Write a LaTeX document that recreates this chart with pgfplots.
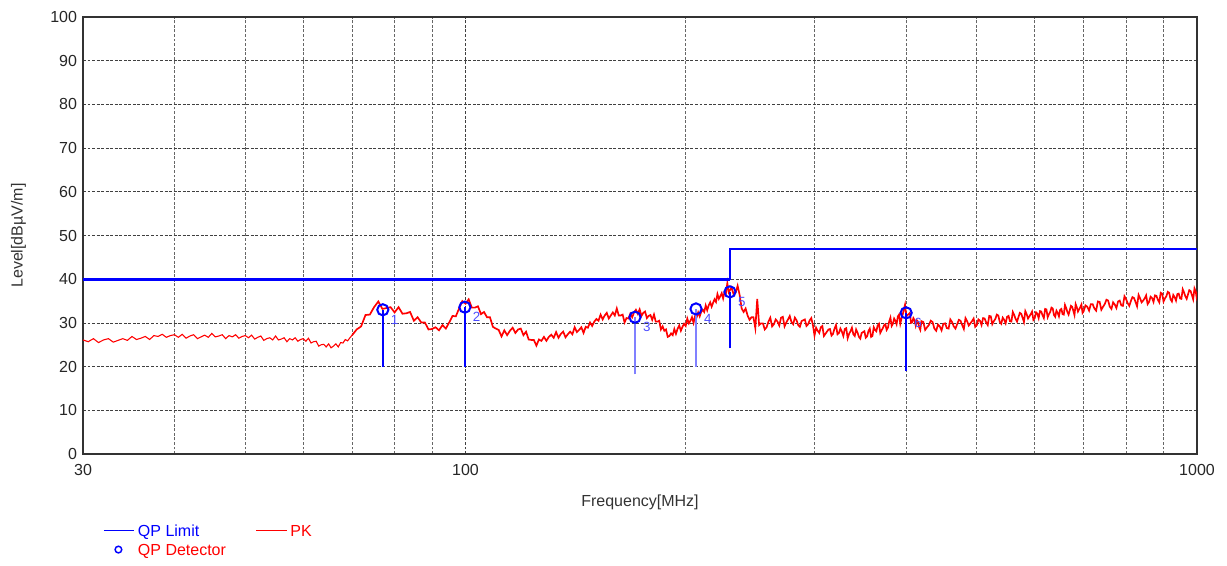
\documentclass[border=0pt]{standalone}
\usepackage{fontspec}
\setmainfont{Liberation Sans}
\usepackage{pgfplots}
\pgfplotsset{compat=1.18}

\begin{document}
\begin{tikzpicture}
\useasboundingbox (-62.25pt,-83.25pt) rectangle (858pt,340.5pt);
\begin{axis}[
    at={(0,0)}, anchor=south west,
    scale only axis,
    width=835.5pt, height=327.75pt,
    xmode=log,
    xmin=30, xmax=1000,
    ymin=0, ymax=100,
    xtick={30,100,1000},
    xticklabels={30,100,1000},
    minor xtick={40,50,60,70,80,90,200,300,400,500,600,700,800,900},
    ytick={0,10,...,100},
    /pgf/number format/assume math mode=true,
    tick label style={font=\fontsize{12pt}{14pt}\selectfont, text=black!85},
    major tick length=0pt, minor tick length=0pt,
    xtick pos=bottom, ytick pos=left,
    xticklabel style={yshift=-4pt},
    yticklabel style={xshift=-1pt},
    grid=both,
    major grid style={black!75, dash pattern=on 2.2pt off 1.2pt, line width=0.6pt},
    minor grid style={black!60, dash pattern=on 2.2pt off 1.2pt, line width=0.5pt},
    axis line style={black!80, line width=1.1pt},
    xlabel={Frequency[MHz]},
    ylabel={Level[dBµV/m]},
    label style={font=\fontsize{12pt}{14pt}\selectfont, text=black!80},
    xlabel style={at={(axis description cs:0.5,-0.11)}, anchor=center},
    ylabel style={at={(axis description cs:-0.058,0.5)}, anchor=center, rotate=0},
    legend columns=2,
    legend style={draw=none, fill=none, at={(0.014,-0.145)}, anchor=north west,
        font=\fontsize{12pt}{14pt}\selectfont,
        /tikz/every even column/.append style={column sep=20pt},
        row sep=-1pt},
    legend cell align=left,
]
\addlegendimage{legend image code/.code={\draw[blue, line width=1.3pt] (0pt,0pt) -- (23pt,0pt);}}
\addlegendentry{\strut\textcolor{blue}{QP Limit}}
\addlegendimage{legend image code/.code={\draw[red, line width=1.3pt] (0pt,0pt) -- (23pt,0pt);}}
\addlegendentry{\strut\textcolor{red}{PK}}
\addlegendimage{legend image code/.code={\draw[blue, line width=1.1pt] (11pt,0pt) circle (2.5pt);}}
\addlegendentry{\strut\textcolor{red}{QP Detector}}

% PK trace, flat low part
\addplot[red, line width=0.8pt, forget plot] coordinates {
(30,26.1)(30.5,25.7)(31,26.4)(31.5,25.5)(32,26.1)(32.5,26.4)(33,25.6)(33.5,26.0)(34,26.4)(34.5,26.0)
(35,26.9)(35.5,26.2)(36,26.5)(36.5,26.9)(37,26.2)(37.5,27.1)(38,26.9)(38.5,27.4)(39,26.7)(39.5,27.1)
(40,27.3)(40.5,26.7)(41,27.4)(41.5,26.5)(42,27.0)(42.5,27.3)(43,26.4)(43.5,26.8)(44,27.2)(44.5,26.7)
(45,27.6)(45.5,26.8)(46,27.0)(46.5,27.3)(47,26.4)(47.5,27.1)(48,26.8)(48.5,27.3)(49,26.5)(49.5,26.9)
(50,27.1)(50.5,26.6)(51,27.2)(51.5,26.3)(52,26.7)(52.5,27.0)(53,26.0)(53.5,26.4)(54,26.6)(54.5,26.1)
(55,27.0)(55.5,26.1)(56,26.3)(56.5,26.6)(57,25.7)(57.5,26.4)(58,26.1)(58.5,26.6)(59,25.8)(59.5,26.2)
(60,26.4)(60.5,25.8)(61,26.5)(61.5,25.4)(62,25.7)(62.5,25.8)(63,24.7)(63.5,25.0)(64,25.1)(64.5,24.5)
(65,25.2)(65.5,24.3)(66,24.7)(66.5,25.2)(67,24.5)(67.5,25.5)(68,25.4)(68.5,26.2)(69,25.9)(69.5,26.6)
(70,27.2)
};

% PK trace, rest
\addplot[red, line width=1.25pt, forget plot] coordinates {
(70,27.2)(71,28.5)(72,29.2)(73,31.8)(74,31.9)(75,33.6)(76,34.9)(77,33.2)(78,33.4)(79,33.6)
(80,32.4)(81,33.6)(82,32.1)(83,32.2)(84,32.5)(85,30.5)(86,31.3)(87,30.1)(88,30.1)(89,28.5)
(90,28.6)(91,29.0)(92,28.3)(93,29.5)(94,28.7)(95,30.1)(96,31.6)(97,31.5)(98,33.3)(99,35.0)
(100,34.4)(101,35.4)(102,33.5)(103,33.5)(104,33.8)(105,32.0)(106,32.5)(107,31.3)(108,31.3)(109,29.1)
(110,28.7)(111,28.4)(112,26.9)(113,28.3)(114,27.2)(115,28.2)(116,28.9)(117,27.7)(118,28.5)(119,28.7)
(120,27.2)(121,28.0)(122,26.2)(123,26.1)(124,26.1)(125,24.8)(126,26.2)(127,25.9)(128,26.8)(129,25.9)
(130,26.8)(131,27.3)(132,26.6)(133,27.9)(134,26.6)(135,27.5)(136,28.0)(137,26.7)(138,27.4)(139,28.0)
(140,27.4)(141,29.0)(142,27.9)(143,28.4)(144,29.0)(145,27.7)(146,29.1)(147,28.9)(148,30.1)(149,29.3)
(150,30.3)(151,30.9)(152,30.5)(153,31.9)(154,30.8)(155,31.7)(156,32.3)(157,31.0)(158,31.7)(159,32.4)
(160,31.7)(161,33.3)(162,31.7)(163,31.7)(164,31.9)(165,30.1)(166,31.1)(167,31.0)(168,32.1)(169,31.3)
(170,32.4)(171,33.0)(172,32.1)(173,33.1)(174,31.6)(175,32.3)(176,32.6)(177,31.1)(178,31.6)(179,31.8)
(180,30.7)(181,31.9)(182,30.3)(183,30.3)(184,30.5)(185,28.5)(186,29.2)(187,28.2)(188,28.5)(189,26.8)
(190,27.0)(191,27.6)(192,27.2)(193,28.6)(194,27.5)(195,28.7)(196,29.4)(197,28.2)(198,29.1)(199,29.8)
(200,29.3)(201,31.0)(202,29.9)(203,30.5)(204,31.3)(205,30.0)(206,31.6)(207,31.3)(208,32.4)(209,31.5)
(210,32.5)(211,33.0)(212,32.5)(213,34.0)(214,32.9)(215,34.0)(216,34.7)(217,33.7)(218,34.6)(219,35.4)
(220,34.8)(221,36.6)(222,35.5)(223,36.1)(224,36.8)(225,35.6)(226,37.1)(227,36.8)(228,39.1)(229,37.0)
(231,38.1)(232.5,36.6)(234,36.9)(235.5,38.5)(237,36.4)(238.5,33.3)(240,32.5)(241.5,33.3)(243,31.7)(244.5,30.7)
(246,31.3)(247.5,31.3)(249,28.8)(250.5,35.5)(252,29.5)(253.5,29.9)(255,29.9)(256.5,28.5)(258,29.0)(259.5,30.3)
(261,31.2)(262.5,29.2)(264,29.7)(265.5,30.8)(267,30.3)(268.5,29.4)(270,31.2)(271.5,31.4)(273,29.2)(274.5,30.1)
(276,30.8)(277.5,31.6)(279,30.2)(280.5,29.7)(282,31.2)(283.5,30.6)(285,29.5)(286.5,29.1)(288,30.4)(289.5,30.6)
(291,30.8)(292.5,29.3)(294,29.7)(295.5,30.6)(297,31.1)(298.5,29.5)(300,27.1)(301.5,28.9)(303,28.2)(304.5,27.7)
(306,29.0)(307.5,29.3)(309,27.0)(310.5,27.5)(312,28.0)(313.5,28.5)(315,28.6)(316.5,27.1)(318,27.5)(319.5,28.7)
(321,29.5)(322.5,27.4)(324,27.7)(325.5,28.7)(327,28.0)(328.5,27.0)(330,28.6)(331.5,28.8)(333,26.5)(334.5,27.5)
(336,28.1)(337.5,28.9)(339,27.4)(340.5,27.0)(342,28.5)(343.5,27.8)(345,26.8)(346.5,26.4)(348,27.7)(349.5,27.9)
(351,28.1)(352.5,26.6)(354,26.9)(355.5,28.1)(357,28.7)(358.5,26.8)(360,27.0)(361.5,29.0)(363,28.4)(364.5,28.1)
(366,29.4)(367.5,29.8)(369,27.7)(370.5,28.3)(372,28.8)(373.5,29.5)(375,29.7)(376.5,28.4)(378,28.9)(379.5,30.3)
(381,31.2)(382.5,29.3)(384,29.8)(385.5,31.0)(387,30.5)(388.5,29.7)(390,31.5)(391.5,31.9)(393,29.8)(394.5,31.0)
(396,31.9)(397.5,33.1)(399,34.2)(400.5,31.5)(402,31.8)(403.5,32.0)(405,32.3)(406.5,30.0)(408,30.1)(409.5,31.1)
(411,30.6)(412.5,29.4)(414,30.6)(415.5,30.3)(417,29.0)(418.5,28.4)(420,30.4)(422.5,30.2)(425,28.4)(427.5,29.0)
(430,29.5)(432.5,30.5)(435,30.2)(437.5,28.7)(440,28.2)(442.5,29.6)(445,29.2)(447.5,28.3)(450,29.8)(452.5,29.9)
(455,28.8)(457.5,28.7)(460,30.8)(462.5,30.2)(465,29.2)(467.5,28.7)(470,29.7)(472.5,30.7)(475,30.5)(477.5,29.5)
(480,28.6)(482.5,31.1)(485,30.4)(487.5,29.4)(490,29.9)(492.5,30.4)(495,31.0)(497.5,29.1)(500,29.5)(502.5,30.8)
(505,30.5)(507.5,29.5)(510,31.1)(512.5,31.0)(515,30.1)(517.5,29.5)(520,31.6)(522.5,31.5)(525,29.7)(527.5,30.4)
(530,30.9)(532.5,31.9)(535,31.7)(537.5,30.2)(540,29.8)(542.5,31.2)(545,30.7)(547.5,29.9)(550,31.4)(552.5,31.6)
(555,30.4)(557.5,30.3)(560,32.5)(562.5,31.8)(565,30.9)(567.5,30.3)(570,31.3)(572.5,32.3)(575,32.1)(577.5,31.2)
(580,30.2)(582.5,32.7)(585,32.0)(587.5,31.0)(590,31.5)(592.5,32.0)(595,32.6)(597.5,30.7)(600,31.1)(602.5,32.4)
(605,32.1)(607.5,31.1)(610,32.7)(612.5,32.6)(615,31.7)(617.5,31.1)(620,33.2)(622.5,33.1)(625,31.3)(627.5,32.0)
(630,32.5)(632.5,33.5)(635,33.3)(637.5,31.8)(640,31.4)(642.5,32.8)(645,32.3)(647.5,31.5)(650,33.0)(652.5,33.2)
(655,32.0)(657.5,31.9)(660,34.1)(662.5,33.4)(665,32.5)(667.5,31.9)(670,32.9)(672.5,33.9)(675,33.7)(677.5,32.8)
(680,31.8)(682.5,34.3)(685,33.6)(687.5,32.6)(690,33.1)(692.5,33.6)(695,34.2)(697.5,32.3)(700,32.7)(704,34.0)
(708,33.7)(712,32.8)(716,34.3)(720,34.3)(724,33.3)(728,32.8)(732,34.9)(736,34.8)(740,33.0)(744,33.7)
(748,34.3)(752,35.3)(756,35.1)(760,33.7)(764,33.2)(768,34.7)(772,34.2)(776,33.4)(780,34.9)(784,35.1)
(788,34.0)(792,33.9)(796,36.1)(800,35.4)(804,34.5)(808,33.9)(812,35.0)(816,35.9)(820,35.7)(824,34.8)
(828,33.8)(832,36.4)(836,35.6)(840,34.7)(844,35.1)(848,35.6)(852,36.3)(856,34.3)(860,34.8)(864,36.0)
(868,35.7)(872,34.8)(876,36.3)(880,36.2)(884,35.3)(888,34.7)(892,36.9)(896,36.7)(900,34.9)(904,35.6)
(908,36.1)(912,37.1)(916,36.9)(920,35.4)(924,34.9)(928,36.4)(932,35.9)(936,35.1)(940,36.6)(944,36.7)
(948,35.6)(952,35.5)(956,37.7)(960,37.0)(964,36.1)(968,35.5)(972,36.5)(976,37.5)(980,37.3)(984,36.4)
(988,35.4)(992,37.9)(996,37.2)(998,36.2)(1000,37.1)
};

% QP limit
\addplot[blue, line width=2.3pt, forget plot] coordinates {(30,40) (230,40)};
\addplot[blue, line width=1.5pt, forget plot] coordinates {(230,39.8) (230,47) (1000,47)};

% QP detector stems
\addplot[blue, line width=1.3pt, forget plot] coordinates {(77.1,20) (77.1,33.0)};
\addplot[blue, line width=1.3pt, forget plot] coordinates {(99.8,20) (99.8,33.6)};
\addplot[blue!50, line width=0.9pt, forget plot] coordinates {(170.5,18.2) (170.5,31.3)};
\addplot[blue!50, line width=0.9pt, forget plot] coordinates {(206.6,20) (206.6,33.2)};
\addplot[blue, line width=1.3pt, forget plot] coordinates {(229.9,24.2) (229.9,37.1)};
\addplot[blue, line width=1.3pt, forget plot] coordinates {(400.3,19) (400.3,32.3)};

% QP detector readings
\addplot[only marks, mark=o, mark size=4.2pt, blue, line width=1.5pt, forget plot,
    point meta=explicit symbolic,
    nodes near coords,
    nodes near coords style={anchor=north west, xshift=2pt, yshift=0pt,
        font=\fontsize{10pt}{12pt}\selectfont, text=blue!70}]
coordinates {
(77.1,33.0) [1]
(99.8,33.6) [2]
(170.5,31.3) [3]
(206.6,33.2) [4]
(229.9,37.1) [5]
(400.3,32.3) [6]
};
\end{axis}
\end{tikzpicture}
\end{document}
